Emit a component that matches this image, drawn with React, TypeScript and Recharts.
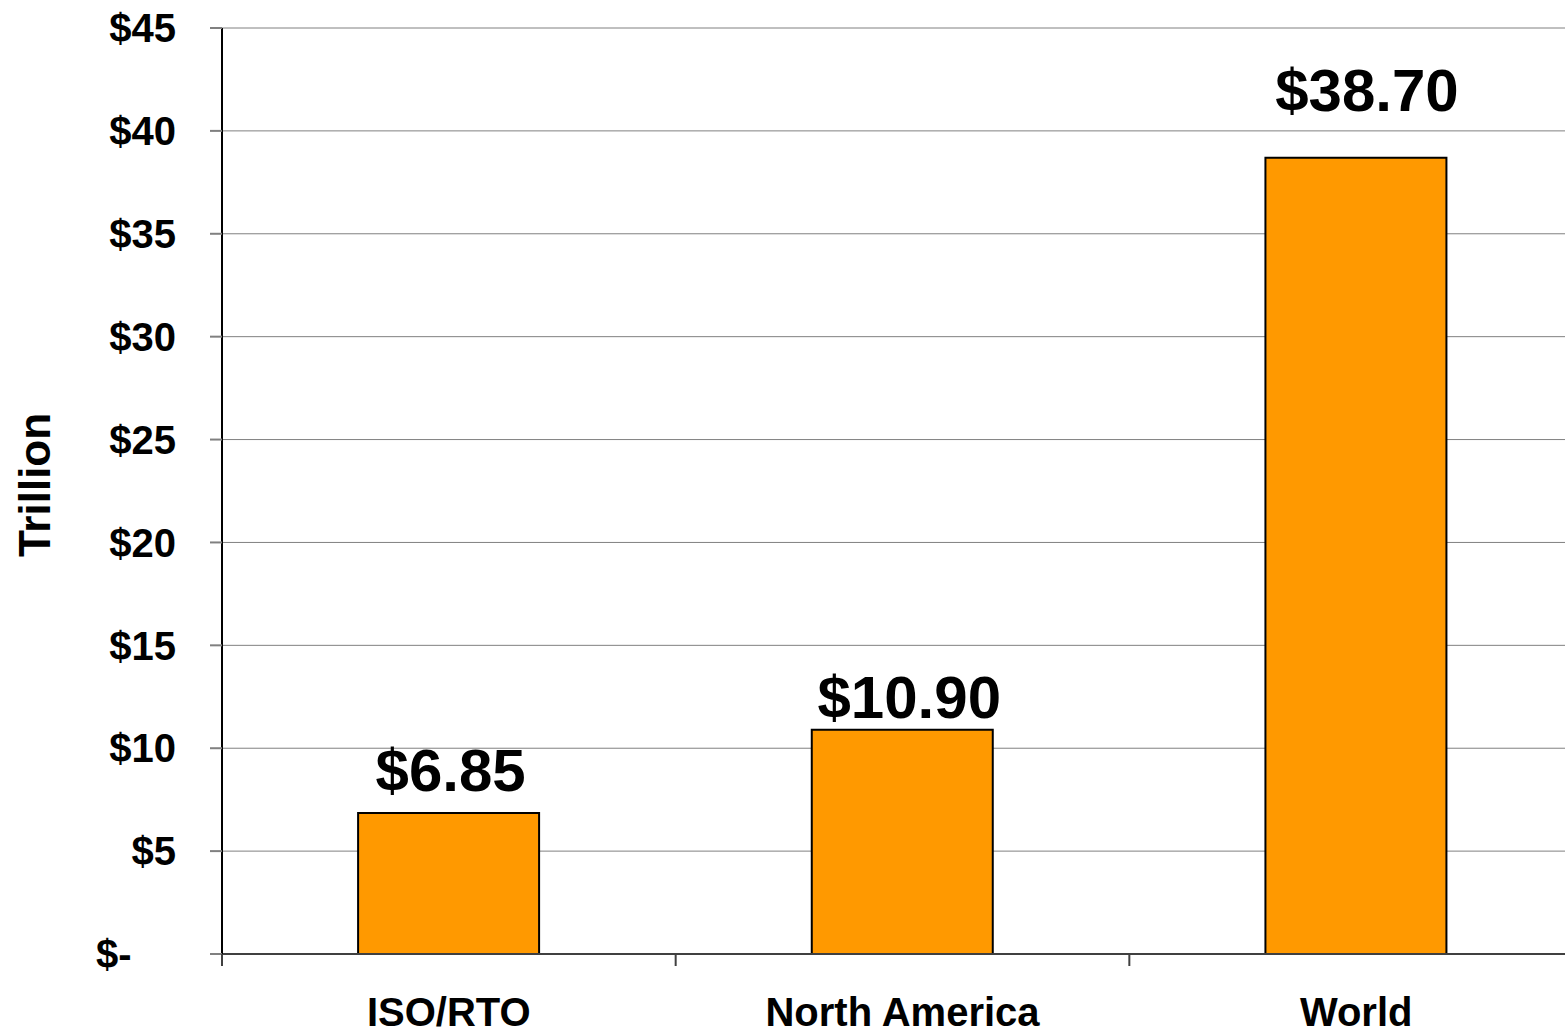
import { Bar, BarChart, CartesianGrid, LabelList, XAxis, YAxis } from "recharts";

const categories = ["ISO/RTO", "North America", "World"];
const trillions = [6.85, 10.9, 38.7];
const yTicks = [0, 5, 10, 15, 20, 25, 30, 35, 40, 45];

// value labels were nudged by hand in the original: lift above the bar, shift right (px)
const labelLift = [22, 12, 47];
const labelShift = [2, 7, 11];

const data = categories.map((name, i) => ({ name, value: trillions[i] }));

const FONT = '"Liberation Sans", Arial, Helvetica, sans-serif';
const X_TICK_SIZE = 12;
const X_TICK_MARGIN = 32;

function CategoryTick(props: any) {
  const { x, y, payload } = props;
  const axisY = y - X_TICK_SIZE - X_TICK_MARGIN;
  const left = x - (payload.offset ?? 0);
  return (
    <g>
      <line x1={left} x2={left} y1={axisY} y2={axisY + X_TICK_SIZE} stroke="#404040" strokeWidth={2} />
      <text
        x={x}
        y={y}
        dy="0.71em"
        textAnchor="middle"
        fontFamily={FONT}
        fontWeight="bold"
        fontSize={40}
        fill="#000"
      >
        {payload.value}
      </text>
    </g>
  );
}

function ValueLabel(props: any) {
  const { x, y, width, index, value } = props;
  return (
    <text
      x={x + width / 2 + labelShift[index]}
      y={y - labelLift[index]}
      textAnchor="middle"
      fontFamily={FONT}
      fontWeight="bold"
      fontSize={60}
      fill="#000"
    >
      {`$${Number(value).toFixed(2)}`}
    </text>
  );
}

function UnitLabel(props: any) {
  const vb = props.viewBox;
  const cx = vb.x + 50;
  const cy = vb.y + vb.height / 2 - 6;
  return (
    <text
      x={cx}
      y={cy}
      transform={`rotate(-90, ${cx}, ${cy})`}
      textAnchor="middle"
      fontFamily={FONT}
      fontWeight="bold"
      fontSize={44}
      fill="#000"
    >
      Trillion
    </text>
  );
}

export default function App() {
  return (
    <div
      style={{
        position: "absolute",
        left: 0,
        top: 0,
        width: 1565,
        height: 1034,
        overflow: "hidden",
        background: "#fff",
      }}
    >
      <BarChart
        width={1583}
        height={1034}
        data={data}
        margin={{ top: 28, right: 0, bottom: 0, left: 0 }}
        barCategoryGap="30%"
      >
        <CartesianGrid vertical={false} stroke="#808080" strokeWidth={1} />
        <XAxis
          dataKey="name"
          height={80}
          tickSize={X_TICK_SIZE}
          tickMargin={X_TICK_MARGIN}
          tickLine={false}
          axisLine={{ stroke: "#404040", strokeWidth: 2 }}
          tick={<CategoryTick />}
          interval={0}
        />
        <YAxis
          width={222}
          domain={[0, 45]}
          ticks={yTicks}
          interval={0}
          tickSize={12}
          tickMargin={34}
          axisLine={{ stroke: "#000", strokeWidth: 2 }}
          tickLine={{ stroke: "#808080", strokeWidth: 2 }}
          tick={{ fontFamily: FONT, fontWeight: "bold", fontSize: 40, fill: "#000" }}
          tickFormatter={(v: number) => (v === 0 ? "$-\u00A0\u00A0\u00A0\u00A0" : `$${v}`)}
          label={(p: any) => <UnitLabel {...p} />}
        />
        <Bar dataKey="value" fill="#FF9900" stroke="#000" strokeWidth={2} isAnimationActive={false}>
          <LabelList dataKey="value" content={<ValueLabel />} />
        </Bar>
      </BarChart>
    </div>
  );
}
